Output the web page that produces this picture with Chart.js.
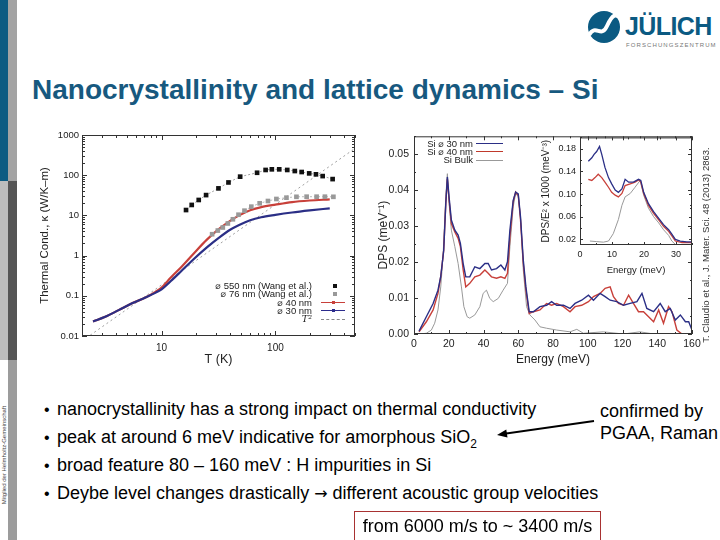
<!DOCTYPE html>
<html>
<head>
<meta charset="utf-8">
<script src="https://cdn.jsdelivr.net/npm/chart.js@4.4.1/dist/chart.umd.min.js"></script>
<style>
body { margin:0; width:720px; height:540px; position:relative; overflow:hidden; background:#fff; font-family:"Liberation Sans", Arial, "DejaVu Sans", sans-serif; color:#000; }
.a { position:absolute; }
.lg { position:absolute; font-size:9.5px; line-height:10px; white-space:nowrap; text-align:right; color:#222; }
.bul { position:absolute; left:44px; font-size:18px; line-height:20px; white-space:nowrap; }
.bul span { display:inline-block; width:13px; font-size:16px; }
canvas { position:absolute; }
</style>
</head>
<body>
<!-- linke Leiste -->
<div class="a" style="left:0;top:0;width:8px;height:181px;background:#0d5b82"></div>
<div class="a" style="left:8px;top:0;width:9px;height:181px;background:#a3a3a3"></div>
<div class="a" style="left:0;top:181px;width:8px;height:179px;background:#bdbdbd"></div>
<div class="a" style="left:8px;top:181px;width:9px;height:179px;background:#555"></div>
<div class="a" style="left:8px;top:360px;width:9px;height:180px;background:#9c9c9c"></div>
<div class="a" style="left:-72px;top:451px;width:152px;height:8px;font-size:6px;line-height:8px;color:#444;text-align:center;transform:rotate(-90deg);white-space:nowrap">Mitglied der Helmholtz-Gemeinschaft</div>

<!-- Logo -->
<svg class="a" style="left:586px;top:9px" width="36" height="36" viewBox="0 0 36 36">
  <circle cx="18" cy="18" r="16" fill="#0b5a82"/>
  <path d="M3 26 C 10 14, 15 30, 21 17 S 30 5, 35 9" stroke="#fff" stroke-width="4" fill="none"/>
</svg>
<div class="a" style="left:625px;top:12px;font-size:25px;font-weight:bold;color:#0b5a82;line-height:28px;letter-spacing:-0.6px">JÜLICH</div>
<div class="a" style="left:626px;top:42px;font-size:6px;color:#777;letter-spacing:1.1px">FORSCHUNGSZENTRUM</div>

<!-- Titel -->
<div class="a" style="left:32px;top:73px;font-size:28px;line-height:34px;font-weight:bold;color:#17597f;white-space:nowrap">Nanocrystallinity and lattice dynamics – Si</div>

<canvas id="kappa" width="340" height="250" style="left:25px;top:125px"></canvas>
<canvas id="dps" width="345" height="250" style="left:360px;top:125px"></canvas>
<canvas id="inset" width="165" height="150" style="left:535px;top:128px"></canvas>

<!-- Legende links -->
<div class="lg" style="right:408px;top:281px">⌀ 550 nm (Wang et al.)</div>
<div class="lg" style="right:408px;top:289px">⌀ 76 nm (Wang et al.)</div>
<div class="lg" style="right:408px;top:298px">⌀ 40 nm</div>
<div class="lg" style="right:408px;top:306px">⌀ 30 nm</div>
<div class="lg" style="right:408px;top:314px;font-style:italic;font-family:'DejaVu Serif',serif">T²</div>
<div class="a" style="left:333px;top:284px;width:4px;height:4px;background:#111"></div>
<div class="a" style="left:333px;top:292px;width:4px;height:4px;background:#999"></div>
<div class="a" style="left:321px;top:302px;width:24px;border-top:1px solid #c8403a"></div>
<div class="a" style="left:332px;top:301px;width:3px;height:3px;background:#c8403a"></div>
<div class="a" style="left:321px;top:310px;width:24px;border-top:1px solid #2c2c8c"></div>
<div class="a" style="left:332px;top:309px;width:3px;height:3px;background:#2c2c8c"></div>
<div class="a" style="left:321px;top:319px;width:24px;border-top:1px dashed #888"></div>

<!-- Legende rechts -->
<div class="lg" style="right:247px;top:139px;font-size:9.5px">Si ⌀ 30 nm</div>
<div class="lg" style="right:247px;top:147px;font-size:9.5px">Si ⌀ 40 nm</div>
<div class="lg" style="right:247px;top:155px;font-size:9.5px">Si Bulk</div>
<div class="a" style="left:476px;top:143px;width:27px;border-top:1.5px solid #2b2f86"></div>
<div class="a" style="left:476px;top:151px;width:27px;border-top:1.5px solid #c0392b"></div>
<div class="a" style="left:476px;top:160px;width:27px;border-top:1.2px solid #999"></div>

<!-- Quelle -->
<div class="a" style="left:586px;top:239px;width:240px;height:12px;font-size:9.5px;line-height:12px;color:#333;text-align:center;transform:rotate(-90deg);transform-origin:center;white-space:nowrap">T. Claudio et al., J. Mater. Sci. 48 (2013) 2863.</div>

<!-- Stichpunkte -->
<div class="bul" style="top:399px"><span>•</span>nanocrystallinity has a strong impact on thermal conductivity</div>
<div class="bul" style="top:427px"><span>•</span>peak at around 6 meV indicative for amorphous SiO<sub style="font-size:12px">2</sub></div>
<div class="bul" style="top:455px"><span>•</span>broad feature 80 – 160 meV : H impurities in Si</div>
<div class="bul" style="top:483px"><span>•</span>Deybe level changes drastically <b style="font-family:'DejaVu Sans';font-weight:normal;font-size:16px">→</b> different acoustic group velocities</div>
<div class="a" style="left:600px;top:401px;font-size:18px;line-height:20px;white-space:nowrap">confirmed by</div>
<div class="a" style="left:600px;top:423px;font-size:18px;line-height:20px;white-space:nowrap">PGAA, Raman</div>
<svg class="a" style="left:0;top:0" width="720" height="540">
  <line x1="594" y1="421" x2="506" y2="433.6" stroke="#000" stroke-width="2"/>
  <polygon points="497,435 507.5,437.6 506.3,429.6" fill="#000"/>
</svg>
<div class="a" style="left:354px;top:511px;width:245px;height:32px;border:1px solid #a83232;font-size:18px;line-height:28px;text-align:center;white-space:nowrap">from 6000 m/s to ~ 3400 m/s</div>

<script>
// Waermeleitfaehigkeit (log-log)
const t550 = [16.4, 18.4, 21.2, 24.6, 31.6, 38.7, 49, 69, 82, 93, 108, 127, 148, 170, 198, 227, 260, 318];
const k550 = [13.6, 18.2, 24.2, 32, 47, 66, 92, 115, 135, 140, 140, 135, 127, 120, 111, 105, 95, 80];
const t76 = [27.8, 31.2, 34.5, 38.2, 42.3, 47.4, 53.5, 61.4, 72.7, 86, 102, 125, 153, 188, 230, 272, 323];
const k76 = [3.4, 4.2, 5.0, 6.3, 8.0, 10.4, 13.1, 16.5, 20, 22.8, 25.6, 27.6, 29, 29.2, 29.2, 29.2, 29];
const t40 = [2.5, 3.2, 4.2, 5.5, 7.3, 8.9, 10, 12, 15, 19, 25, 32, 40, 48, 60, 75, 100, 140, 200, 300];
const k40 = [0.023, 0.030, 0.044, 0.065, 0.092, 0.127, 0.16, 0.28, 0.53, 1.1, 2.5, 4.6, 7.3, 10, 13.5, 16, 18.5, 21.5, 23.5, 25];
const t30 = [2.5, 3.2, 4.2, 5.5, 7.3, 8.9, 10, 12, 15, 19, 25, 32, 40, 48, 60, 75, 100, 140, 200, 300];
const k30 = [0.023, 0.030, 0.044, 0.065, 0.092, 0.12, 0.145, 0.23, 0.42, 0.8, 1.6, 2.8, 4.4, 5.8, 7.6, 9.0, 10.3, 11.8, 13.3, 15];
const tT2 = [2, 500];
const kT2 = [0.0075, 465];
const kappaXLabels = [10, 100];
const kappaYLabels = [0.01, 0.1, 1, 10, 100, 1000];

// Phononenzustandsdichte
const e30 = [2.9, 7.1, 11, 13.8, 15.4, 17.1, 18.3, 19.2, 20.2, 21.5, 23.5, 25.4, 26.7, 28.3, 29.8, 32.1, 35, 37.9, 40.8, 42.7, 44.6, 47.5, 50, 52.3, 53.8, 55.2, 57.1, 58.5, 60, 61.3, 62.9, 64.4, 66.3, 68.7, 72.5, 76.3, 79.2, 82.1, 86, 89.8, 92.7, 96.5, 100.4, 103.3, 107.1, 110, 112.9, 116.7, 120.6, 124.4, 128.3, 131.2, 134, 137.9, 141.7, 144.6, 147.5, 150.4, 153.3, 156.2, 158.1, 160];
const dps30 = [0.0008, 0.0048, 0.0085, 0.0122, 0.016, 0.0233, 0.0363, 0.0437, 0.038, 0.0317, 0.0289, 0.0275, 0.0252, 0.0196, 0.0159, 0.0159, 0.0187, 0.0182, 0.0196, 0.0196, 0.0178, 0.0182, 0.0192, 0.0178, 0.0201, 0.0289, 0.0372, 0.0395, 0.039, 0.0326, 0.0206, 0.0131, 0.0062, 0.0062, 0.0076, 0.008, 0.009, 0.008, 0.008, 0.0071, 0.0085, 0.0094, 0.0108, 0.0094, 0.0113, 0.0104, 0.0094, 0.009, 0.008, 0.0085, 0.009, 0.0113, 0.0071, 0.0062, 0.0085, 0.0062, 0.0071, 0.0039, 0.0053, 0.0034, 0.0034, 0.0011];
const e40 = [2.9, 7.1, 11, 13.8, 15.4, 17.1, 18.3, 19.2, 20.2, 21.5, 23.5, 25.4, 26.7, 28.3, 29.8, 32.1, 35, 37.9, 40.8, 42.7, 44.6, 47.5, 50, 52.3, 53.8, 55.2, 57.1, 58.5, 60, 61.3, 62.9, 64.4, 66.3, 68.7, 72.5, 76.3, 79.2, 82.1, 86, 89.8, 92.7, 96.5, 100.4, 103.3, 107.1, 110, 112.9, 114.8, 117.7, 120.6, 123.5, 126.3, 129.2, 132.1, 135, 137.9, 140.8, 143.6, 146.5, 148.5, 151.3, 154.2, 157.1, 160];
const dps40 = [0.0006, 0.0034, 0.0067, 0.0113, 0.016, 0.0233, 0.0363, 0.0432, 0.0372, 0.0307, 0.0284, 0.0266, 0.0243, 0.0178, 0.0131, 0.0141, 0.0159, 0.0164, 0.0178, 0.0169, 0.0159, 0.0155, 0.0159, 0.0155, 0.0169, 0.027, 0.0368, 0.0395, 0.0386, 0.0317, 0.0196, 0.0122, 0.0057, 0.0062, 0.0067, 0.0085, 0.008, 0.0085, 0.0076, 0.0062, 0.0076, 0.008, 0.009, 0.0104, 0.0113, 0.0127, 0.0131, 0.0104, 0.0085, 0.008, 0.0108, 0.0085, 0.0062, 0.0062, 0.0048, 0.0034, 0.0067, 0.003, 0.0076, 0.0062, 0.0011, 0, 0, 0];
const eBulk = [2.9, 7.1, 10, 11.9, 13.8, 15.4, 16.7, 18.3, 19.2, 20.2, 21.5, 23.5, 25.4, 27.3, 28.7, 30.6, 32.1, 35, 37.9, 39.8, 41.7, 43.6, 45.6, 48.5, 51.3, 53.8, 55.2, 57.1, 58.5, 60, 61.3, 62.9, 64.8, 66.7, 69.6, 72.5, 76.3, 82.1, 89.8, 93.7, 97.5, 109, 120.6, 130, 138, 160];
const dpsBulk = [0, 0.0002, 0.0011, 0.003, 0.0067, 0.0131, 0.0215, 0.0382, 0.0446, 0.0363, 0.0289, 0.0243, 0.0196, 0.0131, 0.0076, 0.0048, 0.0044, 0.0053, 0.0076, 0.0113, 0.0122, 0.0099, 0.009, 0.0099, 0.0122, 0.0141, 0.0243, 0.0354, 0.0391, 0.0382, 0.0326, 0.0178, 0.0076, 0.0053, 0.0039, 0.002, 0.0016, 0.0011, 0.0006, 0.0013, 0.0002, 0.0006, 0, 0.0006, 0, 0];
const energyLabels = [0, 20, 40, 60, 80, 100, 120, 140, 160];
const dpsLabels = [0, 0.01, 0.02, 0.03, 0.04, 0.05];

// Einschub DPS/E^2
const ei30 = [2.6, 3.7, 4.4, 5.2, 6.1, 6.8, 7.8, 8.9, 9.9, 11, 12, 13.1, 14.1, 15.2, 16.7, 18.3, 19, 19.9, 21.4, 23, 24.6, 26.1, 27.7, 28.7, 29.8, 31.3, 33.4, 35];
const di30 = [0.158, 0.164, 0.170, 0.175, 0.184, 0.170, 0.147, 0.129, 0.118, 0.107, 0.103, 0.109, 0.126, 0.121, 0.121, 0.126, 0.124, 0.103, 0.083, 0.069, 0.057, 0.046, 0.037, 0.029, 0.020, 0.017, 0.0154, 0.0154];
const ei40 = [2.6, 3.7, 4.7, 5.7, 6.8, 7.8, 8.9, 9.9, 11, 12, 13.1, 14.1, 15.7, 17.2, 18.3, 19, 19.9, 21.4, 23, 24.6, 26.1, 27.7, 28.7, 29.8, 31.9, 35];
const di40 = [0.126, 0.124, 0.129, 0.135, 0.129, 0.121, 0.112, 0.103, 0.098, 0.095, 0.101, 0.115, 0.118, 0.121, 0.125, 0.121, 0.101, 0.080, 0.066, 0.0545, 0.043, 0.034, 0.026, 0.017, 0.0143, 0.0143];
const eiBulk = [3.1, 5.2, 7.3, 8.9, 10.4, 12, 13.1, 14.1, 15.7, 17.2, 18.8, 19.9, 21.4, 23, 24.6, 26.1, 27.7, 28.7, 29.8];
const diBulk = [0.017, 0.016, 0.015, 0.017, 0.030, 0.055, 0.080, 0.095, 0.101, 0.112, 0.124, 0.098, 0.075, 0.060, 0.049, 0.037, 0.027, 0.017, 0.011];
const insetXLabels = [0, 10, 20, 30];
const insetYLabels = [0.02, 0.06, 0.10, 0.14, 0.18];

const BLUE = '#2b2f86', RED = '#c8403a', GREY = '#999';
const pts = (xs, ys) => xs.map((x, i) => ({x: x, y: ys[i]}));
const near = (list, v) => list.some(l => Math.abs(l - v) < 1e-9);

Chart.defaults.font.family = '"Liberation Sans", Arial, sans-serif';
Chart.defaults.color = '#222';
Chart.defaults.animation = false;

// Rahmen mit nach innen zeigenden Ticks
const framePlugin = {
    id: 'frame',
    afterDatasetsDraw(chart, args, opts) {
        const {ctx, chartArea: a, scales} = chart;
        ctx.save();
        ctx.strokeStyle = '#333';
        ctx.lineWidth = 1;
        ctx.strokeRect(a.left + 0.5, a.top + 0.5, a.right - a.left - 1, a.bottom - a.top - 1);
        Object.values(scales).forEach(s => {
            s.ticks.forEach(t => {
                const p = Math.round(s.getPixelForValue(t.value)) + 0.5;
                const len = t.label ? opts.major : opts.minor;
                ctx.beginPath();
                if (s.isHorizontal()) {
                    ctx.moveTo(p, a.bottom); ctx.lineTo(p, a.bottom - len);
                    ctx.moveTo(p, a.top); ctx.lineTo(p, a.top + len);
                } else {
                    ctx.moveTo(a.left, p); ctx.lineTo(a.left + len, p);
                    ctx.moveTo(a.right, p); ctx.lineTo(a.right - len, p);
                }
                ctx.stroke();
            });
        });
        ctx.restore();
    }
};

function axis(opts) {
    return Object.assign({
        grid: {display: false, drawTicks: false},
        border: {display: false}
    }, opts);
}

// Log-Ticks 1..9 je Dekade
const decades = (labels) => labels.flatMap(d => [1, 2, 3, 4, 5, 6, 7, 8, 9].map(m => m * d));

new Chart(document.getElementById('kappa'), {
    type: 'scatter',
    data: {
        datasets: [
            {data: pts(t550, k550), showLine: true, borderColor: '#888', borderWidth: 0.8, borderDash: [2, 2],
             pointStyle: 'rect', pointRadius: 3.3, pointBackgroundColor: '#111', pointBorderWidth: 0},
            {data: pts(t76, k76), showLine: true, borderColor: '#aaa', borderWidth: 0.8, borderDash: [2, 2],
             pointStyle: 'rect', pointRadius: 3.3, pointBackgroundColor: '#999', pointBorderWidth: 0},
            {data: pts(t30, k30), showLine: true, borderColor: BLUE, borderWidth: 2.2, pointRadius: 0, cubicInterpolationMode: 'monotone'},
            {data: pts(t40, k40), showLine: true, borderColor: RED, borderWidth: 2.2, pointRadius: 0, cubicInterpolationMode: 'monotone'},
            {data: pts(tT2, kT2), showLine: true, borderColor: '#888', borderWidth: 0.8, borderDash: [2, 3], pointRadius: 0}
        ]
    },
    options: {
        responsive: false,
        layout: {padding: {top: 10, right: 10, left: 0, bottom: 0}},
        plugins: {legend: {display: false}, tooltip: {enabled: false}, frame: {major: 5, minor: 3}},
        scales: {
            x: axis({
                type: 'logarithmic', min: 2, max: 500,
                afterBuildTicks: s => { s.ticks = decades([1, 10, 100]).filter(v => v >= 2 && v <= 500).map(v => ({value: v})); },
                afterFit: s => { s.height = 39; },
                ticks: {autoSkip: false, maxRotation: 0, padding: 6, font: {size: 10}, callback: v => near(kappaXLabels, v) ? String(v) : ''},
                title: {display: true, text: 'T (K)', font: {size: 12.5}, color: '#222', padding: {top: 0, bottom: 8}}
            }),
            y: axis({
                type: 'logarithmic', min: 0.01, max: 1000,
                afterBuildTicks: s => { s.ticks = decades(kappaYLabels).filter(v => v <= 1000).map(v => ({value: v})); },
                afterFit: s => { s.width = 57; },
                ticks: {autoSkip: false, padding: 3, font: {size: 9.5}, callback: v => near(kappaYLabels, v) ? String(v) : ''},
                title: {display: true, text: 'Thermal Cond., κ (W/K–m)', font: {size: 11.5}, color: '#222', padding: {top: 13, bottom: 0}}
            })
        }
    },
    plugins: [framePlugin]
});

new Chart(document.getElementById('dps'), {
    type: 'scatter',
    data: {
        datasets: [
            {data: pts(e30, dps30), showLine: true, borderColor: BLUE, borderWidth: 1.4, pointRadius: 0},
            {data: pts(e40, dps40), showLine: true, borderColor: RED, borderWidth: 1.4, pointRadius: 0},
            {data: pts(eBulk, dpsBulk), showLine: true, borderColor: GREY, borderWidth: 1, pointRadius: 0}
        ]
    },
    options: {
        responsive: false,
        layout: {padding: {top: 10, right: 13, left: 0, bottom: 0}},
        plugins: {legend: {display: false}, tooltip: {enabled: false}, frame: {major: 4, minor: 2}},
        scales: {
            x: axis({
                type: 'linear', min: 0, max: 160,
                afterBuildTicks: s => { s.ticks = energyLabels.flatMap(v => v < 160 ? [v, v + 10] : [v]).map(v => ({value: v})); },
                afterFit: s => { s.height = 41; },
                ticks: {autoSkip: false, maxRotation: 0, padding: 4, font: {size: 10.5}, callback: v => near(energyLabels, v) ? String(v) : ''},
                title: {display: true, text: 'Energy (meV)', font: {size: 12}, color: '#222', padding: {top: 0, bottom: 8}}
            }),
            y: axis({
                type: 'linear', min: 0, max: 0.055,
                afterBuildTicks: s => { s.ticks = dpsLabels.flatMap(v => [v, v + 0.005]).map(v => ({value: v})); },
                afterFit: s => { s.width = 54; },
                ticks: {autoSkip: false, padding: 5, font: {size: 10.5}, callback: v => near(dpsLabels, v) ? v.toFixed(2) : ''},
                title: {display: true, text: 'DPS (meV⁻¹)', font: {size: 12}, color: '#222', padding: {top: 16, bottom: 0}}
            })
        }
    },
    plugins: [framePlugin]
});

new Chart(document.getElementById('inset'), {
    type: 'scatter',
    data: {
        datasets: [
            {data: pts(ei30, di30), showLine: true, borderColor: BLUE, borderWidth: 1.3, pointRadius: 0},
            {data: pts(ei40, di40), showLine: true, borderColor: RED, borderWidth: 1.3, pointRadius: 0},
            {data: pts(eiBulk, diBulk), showLine: true, borderColor: GREY, borderWidth: 1, pointRadius: 0}
        ]
    },
    options: {
        responsive: false,
        layout: {padding: {top: 7, right: 8, left: 0, bottom: 0}},
        plugins: {legend: {display: false}, tooltip: {enabled: false}, frame: {major: 3, minor: 2}},
        scales: {
            x: axis({
                type: 'linear', min: 0, max: 35,
                afterBuildTicks: s => { s.ticks = insetXLabels.flatMap(v => [v, v + 5]).map(v => ({value: v})); },
                afterFit: s => { s.height = 33; },
                ticks: {autoSkip: false, maxRotation: 0, padding: 4, font: {size: 9}, callback: v => near(insetXLabels, v) ? String(v) : ''},
                title: {display: true, text: 'Energy (meV)', font: {size: 9.5}, color: '#222', padding: {top: 0, bottom: 2}}
            }),
            y: axis({
                type: 'linear', min: 0.01, max: 0.20,
                afterBuildTicks: s => { s.ticks = insetYLabels.flatMap(v => [v, v + 0.02]).map(v => ({value: v})); },
                afterFit: s => { s.width = 45; },
                ticks: {autoSkip: false, padding: 4, font: {size: 9}, callback: v => near(insetYLabels, v) ? v.toFixed(2) : ''},
                title: {display: true, text: 'DPS/E² x 1000 (meV⁻³)', font: {size: 10}, color: '#222', padding: {top: 5, bottom: 0}}
            })
        }
    },
    plugins: [framePlugin]
});
</script>
</body>
</html>
